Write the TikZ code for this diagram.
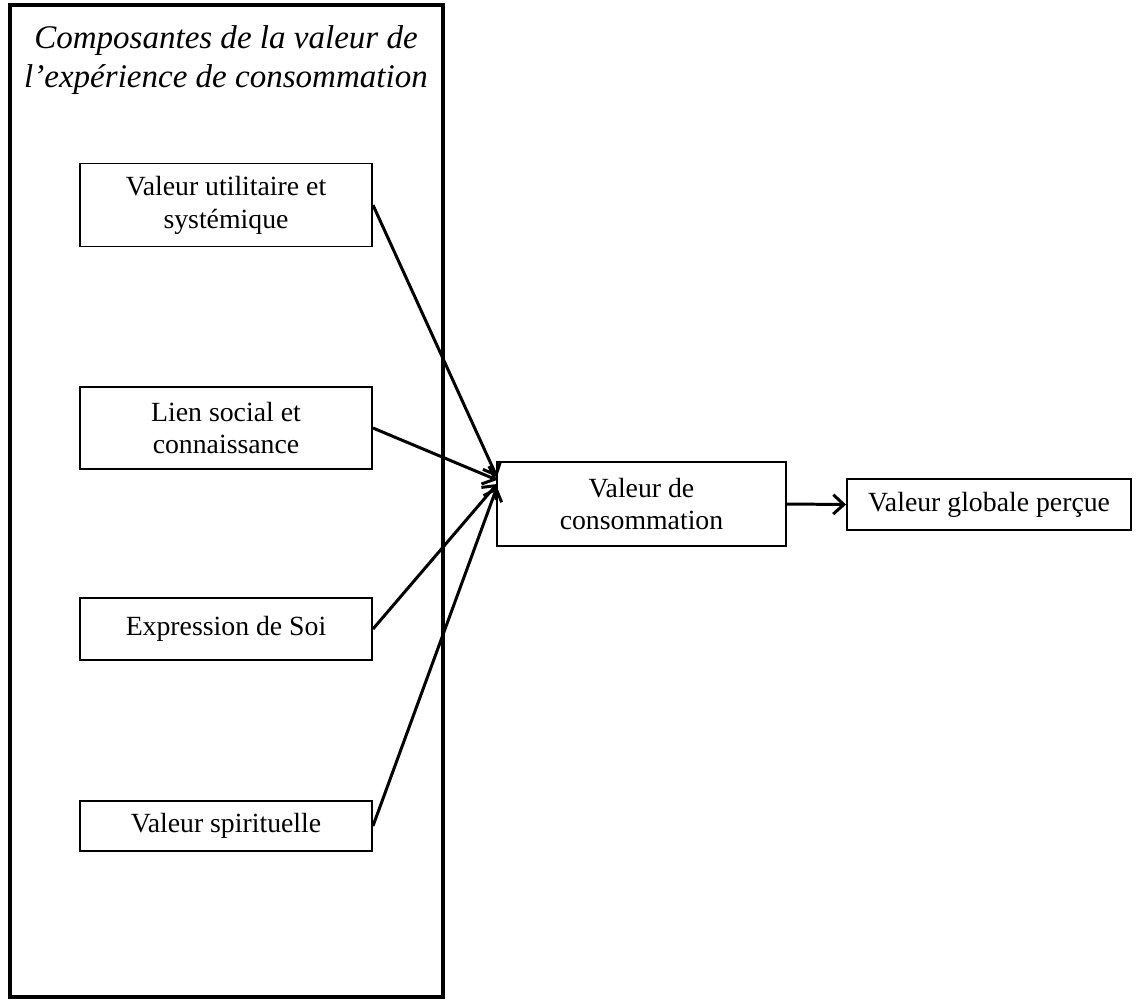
\documentclass[tikz,border=0pt]{standalone}
\usepackage{fontspec}
\setmainfont{Liberation Serif}
\usepackage{tikz}
\usetikzlibrary{arrows.meta,positioning}

\tikzset{
  valbox/.style={draw=black, line width=1.1pt, fill=white, align=center,
    inner sep=2pt, font=\fontsize{15.8}{18.7}\selectfont},
  lien/.style={-{Straight Barb[length=6pt,width=11pt]}, line width=1.7pt}
}

\begin{document}
\begin{tikzpicture}[x=0.02cm, y=-0.02cm]
  \useasboundingbox (0,0) rectangle (1139,1001);
  % cadre des composantes
  \draw[line width=2.2pt] (10,5) rectangle (443,997);
  \node (titre) at (226,60) [align=center, font=\fontsize{18.8}{22.2}\selectfont\itshape]
    {Composantes de la valeur de\\l'expérience de consommation};

  % composantes
  \node[valbox, minimum width=292*0.02cm, minimum height=83*0.02cm] (utilitaire) at (226,205)
    {Valeur utilitaire et\\systémique};
  \node[valbox, minimum width=292*0.02cm, minimum height=82*0.02cm] (lien) at (226,428)
    {Lien social et\\connaissance};
  \node[valbox, minimum width=292*0.02cm, minimum height=62*0.02cm] (soi) at (226,629)
    {Expression de Soi};
  \node[valbox, minimum width=292*0.02cm, minimum height=50*0.02cm] (spirit) at (226,826)
    {Valeur spirituelle};

  \node[valbox, minimum width=289*0.02cm, minimum height=84*0.02cm] (conso) at (641.5,504)
    {Valeur de\\consommation};
  \node[valbox, minimum width=284*0.02cm, minimum height=51*0.02cm] (globale) at (989,504.5)
    {Valeur globale perçue};

  % points d'arrivee
  \coordinate (p1) at (497,477);
  \coordinate (p2) at (497,480);
  \coordinate (p3) at (497,484);
  \coordinate (p4) at (497,487);

  \draw[lien] (utilitaire.east) -- (p1);
  \draw[lien] (lien.east) -- (p2);
  \draw[lien] (soi.east) -- (p3);
  \draw[lien] (spirit.east) -- (p4);
  \draw[lien] (conso.east) -- (globale.west);
\end{tikzpicture}
\end{document}
